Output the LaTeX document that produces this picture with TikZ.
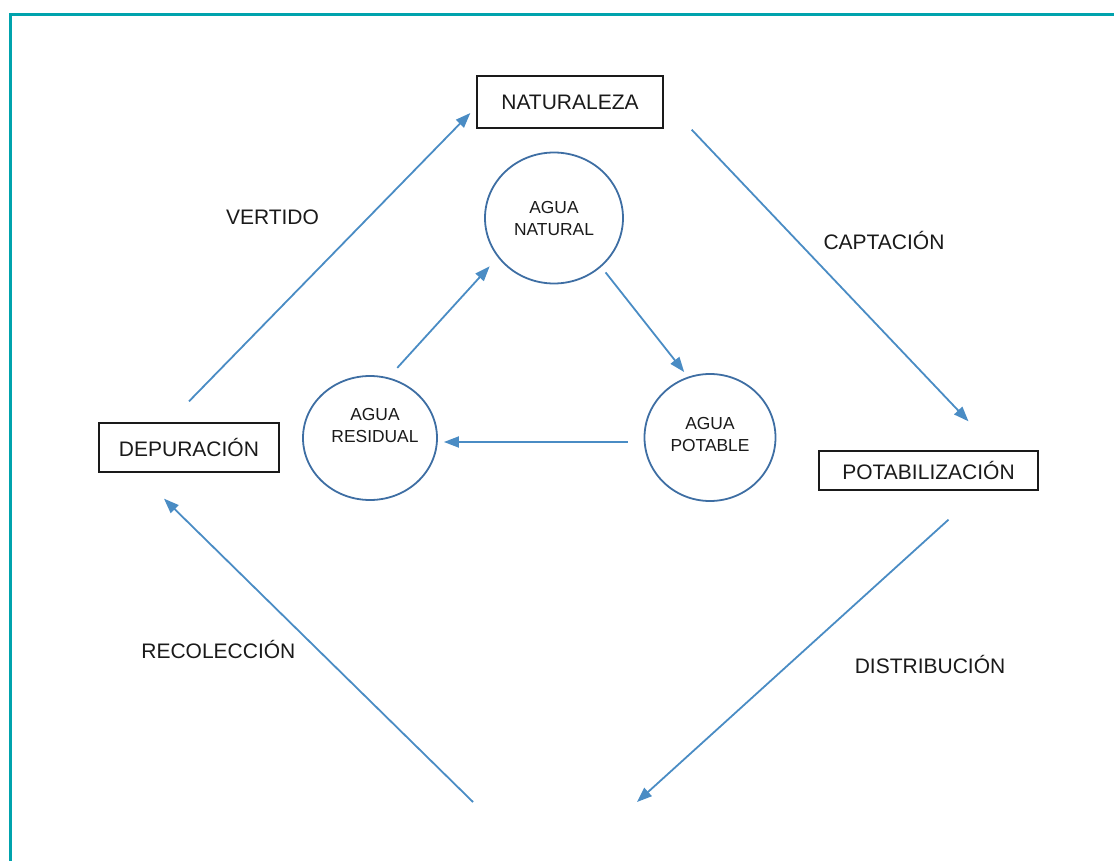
\documentclass[tikz,border=0pt]{standalone}
\usepackage{fontspec}
\setmainfont{Liberation Sans}
\usepackage{xcolor}
\definecolor{cFrame}{HTML}{00A3AD}
\definecolor{cFlow}{HTML}{4A8CC4}
\definecolor{cRing}{HTML}{3E6EA3}
\definecolor{cInk}{HTML}{1A1A1A}
\usepackage{tikz}
\usetikzlibrary{positioning,arrows.meta,shapes.geometric}
\tikzset{
  node-box/.style={draw=cInk,line width=1.3pt,align=center,inner sep=0pt,
    font=\fontsize{21}{25}\selectfont,text=cInk},
  node-water/.style={draw=cRing,line width=1.8pt,ellipse,inner sep=0pt},
  label-water/.style={align=center,inner sep=0pt,
    font=\fontsize{17.4}{22}\selectfont,text=cInk},
  label-stage/.style={font=\fontsize{21}{25}\selectfont,text=cInk,
    inner sep=0pt,anchor=base},
  arrow-flow/.style={-{Triangle[length=15pt,width=11pt]},line width=1.8pt,
    draw=cFlow},
  frame-line/.style={draw=cFrame,line width=3pt},
}

\begin{document}
\begin{tikzpicture}[x=1pt,y=-1pt]
  \useasboundingbox (0,0) rectangle (1114,861);
  % marco
  \draw[frame-line] (10,861) -- (10,15) -- (1114,15);
  % ciclo exterior
  \node[node-box,minimum width=186pt,minimum height=52pt] (nat) at (570,102) {NATURALEZA};
  \node[node-box,minimum width=180pt,minimum height=49pt] (dep) at (189,447.5) {DEPURACIÓN};
  \node[node-box,minimum width=219pt,minimum height=39pt] (pot) at (928.5,470.5) {POTABILIZACIÓN};
  \coordinate (bot-l) at (473,802);
  \coordinate (bot-r) at (637,802);
  % ciclo interior
  \node[node-water,minimum width=138pt,minimum height=131pt,
    label={[label-water,yshift=-1pt]center:{AGUA\\NATURAL}}] (w-nat) at (554,218) {};
  \node[node-water,minimum width=134pt,minimum height=124pt,
    label={[label-water,xshift=5pt,yshift=12pt]center:{AGUA\\RESIDUAL}}] (w-res) at (370,438) {};
  \node[node-water,minimum width=131pt,minimum height=127pt,
    label={[label-water,yshift=3pt]center:{AGUA\\POTABLE}}] (w-pot) at (710,437.5) {};
  % etiquetas
  \node[label-stage] (l-ver) at (272.5,224.3) {VERTIDO};
  \node[label-stage] (l-cap) at (884,250) {CAPTACIÓN};
  \node[label-stage] (l-rec) at (218.4,658.3) {RECOLECCIÓN};
  \node[label-stage] (l-dis) at (930,673) {DISTRIBUCIÓN};
  % flechas
  \draw[arrow-flow] ([yshift=21pt]dep.north) -- ([xshift=-6pt,yshift=-11pt]nat.west);
  \draw[arrow-flow] ([xshift=28pt,yshift=-1pt]nat.south east) -- ([xshift=40pt,yshift=29pt]pot.north);
  \draw[arrow-flow] ([xshift=20pt,yshift=-29pt]pot.south) -- (bot-r);
  \draw[arrow-flow] (bot-l) -- ([xshift=-25pt,yshift=-26pt]dep.south);
  \draw[arrow-flow,shorten <=13pt,shorten >=12pt] (w-res.73) -- (w-nat.215);
  \draw[arrow-flow,shorten <=7pt,shorten >=6pt] (w-nat.-46) -- (w-pot.110);
  \draw[arrow-flow,shorten <=16pt,shorten >=6pt] ([yshift=-4.5pt]w-pot.west) -- ([yshift=-4pt]w-res.east);
\end{tikzpicture}
\end{document}
